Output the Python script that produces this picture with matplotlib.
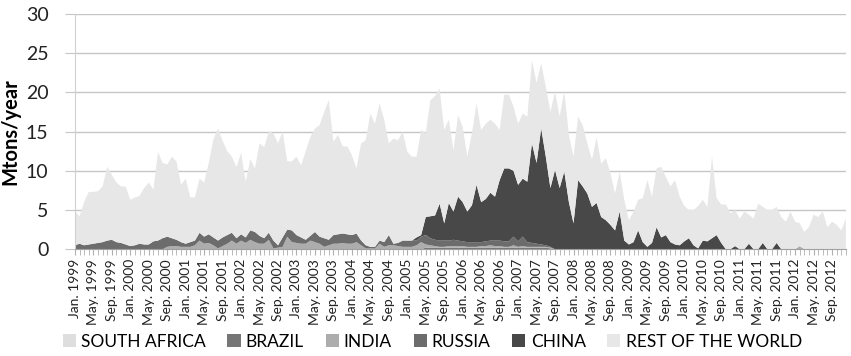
import numpy as np
import matplotlib.pyplot as plt

plt.rcParams['font.family'] = ['Lato', 'DejaVu Sans']

# monthly values, Jan. 1999 .. Dec. 2012 (Mtons/year), one line per year
years = list(range(1999, 2013))
tick_months = ['Jan.', 'May.', 'Sep.']

south_africa = [0.0] * 168  # not visible on the chart

brazil = [
    0, 0, 0, 0, 0, 0, 0, 0, 0, 0, 0, 0,
    0, 0, 0, 0, 0, 0, 0, 0, 0, 0, 0, 0,
    0, 0, 0, 0, 0, 0, 0, 0, 0, 0, 0, 0,
    0, 0, 0, 0, 0, 0, 0, 0, 0, 0, 0, 0,
    0, 0, 0, 0, 0, 0, 0, 0, 0, 0, 0, 0,
    0, 0, 0, 0, 0, 0, 0, 0, 0, 0, 0, 0,
    0, 0, 0, 0, 0.2, 0.2, 0.2, 0.2, 0.2, 0.2, 0.2, 0.2,
    0.2, 0.2, 0.2, 0.2, 0.2, 0.2, 0.2, 0.2, 0.2, 0.2, 0.2, 0.2,
    0.2, 0.2, 0.2, 0.2, 0.2, 0.2, 0.2, 0.1, 0, 0, 0, 0,
    0, 0, 0, 0, 0, 0, 0, 0, 0, 0, 0, 0,
    0, 0, 0, 0, 0, 0, 0, 0, 0, 0, 0, 0,
    0, 0, 0, 0, 0, 0, 0, 0, 0, 0, 0, 0,
    0, 0, 0, 0, 0, 0, 0, 0, 0, 0, 0, 0,
    0, 0, 0, 0, 0, 0, 0, 0, 0, 0, 0, 0,
]

india = [
    0, 0, 0, 0, 0, 0, 0, 0, 0, 0, 0, 0,
    0, 0, 0, 0, 0, 0, 0, 0, 0.3, 0.4, 0.4, 0.3,
    0.3, 0.3, 0.5, 1.1, 0.7, 0.8, 0.5, 0.1, 0.4, 0.7, 1.1, 0.7,
    1.1, 0.8, 1.2, 0.9, 0.7, 0.7, 1.2, 0.1, 0.2, 0.3, 1.6, 0.9,
    0.8, 0.7, 0.7, 1.1, 0.9, 0.7, 0.3, 0.5, 0.7, 0.7, 0.8, 0.7,
    0.7, 0.9, 0.5, 0.1, 0.1, 0.1, 0.7, 0.3, 0.5, 0.5, 0.4, 0.3,
    0.3, 0.3, 0.5, 0.9, 0.4, 0.3, 0.2, 0.1, 0.1, 0.2, 0.2, 0.2,
    0.2, 0.1, 0.1, 0.1, 0.2, 0.2, 0.3, 0.2, 0.2, 0.1, 0.1, 0.3,
    0.1, 0.2, 0.1, 0.1, 0.1, 0.1, 0.1, 0.1, 0, 0, 0, 0,
    0, 0, 0, 0, 0, 0, 0, 0, 0, 0, 0, 0,
    0, 0, 0, 0, 0, 0, 0, 0, 0, 0, 0, 0,
    0, 0, 0, 0, 0, 0, 0, 0, 0, 0, 0, 0,
    0, 0, 0, 0, 0, 0, 0, 0, 0, 0, 0, 0,
    0, 0.4, 0, 0, 0, 0, 0, 0, 0, 0, 0, 0,
]

russia = [
    0.5, 0.7, 0.5, 0.6, 0.7, 0.8, 0.9, 1.1, 1.2, 0.9, 0.8, 0.6,
    0.4, 0.5, 0.7, 0.6, 0.6, 1.0, 1.1, 1.4, 1.3, 1.0, 0.8, 0.6,
    0.4, 0.6, 0.6, 1.0, 0.9, 1.1, 1.0, 1.0, 1.1, 1.1, 1.0, 0.7,
    0.8, 0.7, 1.2, 1.3, 1.0, 0.7, 0.9, 1.0, 0.3, 1.2, 0.9, 1.5,
    1.0, 0.8, 0.5, 0.6, 1.3, 0.9, 1.1, 0.7, 1.1, 1.2, 1.2, 1.2,
    1.1, 1.1, 0.6, 0.4, 0.2, 0.2, 0.4, 0.6, 1.3, 0.2, 0.4, 0.8,
    0.8, 0.8, 0.6, 0.7, 1.2, 0.9, 0.8, 0.8, 0.8, 0.7, 0.8, 0.7,
    0.6, 0.6, 0.6, 0.6, 0.5, 0.6, 0.6, 0.7, 0.7, 0.7, 0.7, 1.1,
    0.7, 1.2, 0.6, 0.5, 0.4, 0.3, 0.2, 0.1, 0, 0, 0, 0,
    0, 0, 0, 0, 0, 0, 0, 0, 0, 0, 0, 0,
    0, 0, 0, 0, 0, 0, 0, 0, 0, 0, 0, 0,
    0, 0, 0, 0, 0, 0, 0, 0, 0, 0, 0, 0,
    0, 0, 0, 0, 0, 0, 0, 0, 0, 0, 0, 0,
    0, 0, 0, 0, 0, 0, 0, 0, 0, 0, 0, 0,
]

china = [
    0, 0, 0, 0, 0, 0, 0, 0, 0, 0, 0, 0,
    0, 0, 0, 0, 0, 0, 0, 0, 0, 0, 0, 0,
    0, 0, 0, 0, 0, 0, 0, 0, 0, 0, 0, 0,
    0, 0, 0, 0, 0, 0, 0, 0, 0, 0, 0, 0,
    0, 0, 0, 0, 0, 0, 0, 0, 0, 0, 0, 0,
    0, 0, 0, 0, 0, 0, 0, 0, 0, 0, 0, 0,
    0, 0, 0.4, 0.2, 2.3, 2.8, 3.1, 4.7, 2.2, 4.8, 3.6, 5.6,
    5.0, 3.9, 4.7, 7.3, 5.1, 5.4, 6.1, 5.6, 7.7, 9.3, 9.3, 8.4,
    7.2, 7.4, 7.7, 12.7, 10.3, 14.8, 11.3, 7.5, 10.1, 7.8, 9.9, 6.0,
    3.3, 8.8, 8.0, 7.1, 5.4, 5.9, 4.1, 3.7, 3.1, 2.4, 4.8, 1.1,
    0.6, 0.9, 2.4, 0.9, 0.3, 0.8, 2.8, 1.5, 1.8, 0.9, 0.6, 0.5,
    1.0, 1.4, 0.5, 0.1, 1.1, 1.0, 1.4, 1.8, 0.8, 0, 0, 0.4,
    0, 0, 0.7, 0, 0, 0.8, 0, 0, 0.8, 0, 0, 0,
    0, 0, 0, 0, 0, 0, 0, 0, 0, 0, 0, 0,
]

rest_of_world = [
    4.3, 3.5, 5.5, 6.7, 6.6, 6.6, 7.1, 9.4, 8.3, 7.6, 7.2, 7.4,
    5.9, 6.1, 6.1, 7.2, 7.9, 6.6, 11.3, 9.6, 9.2, 10.4, 10.0, 7.3,
    8.3, 5.7, 5.5, 6.9, 6.9, 9.1, 12.5, 14.3, 12.3, 10.7, 9.7, 9.1,
    10.4, 7.1, 9.1, 8.1, 11.8, 11.6, 12.9, 13.7, 13.0, 13.5, 8.7, 8.8,
    10.0, 9.2, 11.3, 12.6, 13.2, 14.2, 16.1, 17.8, 11.9, 12.7, 11.1, 11.2,
    10.2, 8.3, 12.4, 13.4, 17.0, 15.7, 17.5, 15.6, 11.7, 13.4, 13.1, 13.9,
    11.3, 10.7, 10.3, 13.4, 10.7, 14.8, 15.2, 14.7, 11.9, 10.6, 7.8, 10.4,
    9.6, 7.0, 9.2, 10.4, 9.2, 9.6, 9.3, 9.3, 6.4, 9.4, 9.4, 8.2,
    7.8, 8.3, 8.3, 10.6, 10.2, 8.3, 8.9, 9.7, 10.0, 9.1, 10.2, 8.6,
    8.5, 8.1, 7.8, 6.4, 6.0, 8.4, 6.8, 7.9, 6.6, 4.7, 5.1, 5.2,
    3.1, 3.9, 3.9, 5.6, 8.5, 5.9, 7.5, 9.0, 7.4, 7.1, 8.2, 6.2,
    4.5, 3.6, 4.5, 5.4, 5.2, 4.4, 10.4, 4.7, 4.9, 5.7, 4.6, 4.6,
    3.9, 4.8, 3.7, 3.9, 5.8, 4.6, 5.0, 5.0, 4.6, 4.1, 3.5, 4.8,
    3.5, 2.9, 2.2, 2.8, 4.4, 4.1, 4.8, 2.8, 3.5, 3.1, 2.4, 3.9,
]

series_names = ['SOUTH AFRICA', 'BRAZIL', 'INDIA', 'RUSSIA', 'CHINA', 'REST OF THE WORLD']
colors = ['#dedede', '#767676', '#adadad', '#6c6c6c', '#484848', '#e7e7e7']

x = np.arange(len(rest_of_world))
tick_labels = [f'{m} {y}' for y in years for m in tick_months]

fig = plt.figure(figsize=(8.51, 3.56), dpi=100)
ax = fig.add_axes([0.088, 0.3, 0.906, 0.661])

ax.stackplot(x, south_africa, brazil, india, russia, china, rest_of_world,
             colors=colors, labels=series_names, lw=0, zorder=2)

ax.set_xlim(0, len(x) - 1)
ax.set_ylim(0, 30)
ax.set_yticks(range(0, 31, 5))
ax.yaxis.grid(True, color='#c6c6c6', lw=1, zorder=0)
ax.set_axisbelow(True)

ax.set_xticks(x[::4])
ax.set_xticklabels(tick_labels, rotation=90, fontsize=10, color='#222222')
ax.set_xticks(x, minor=True)
ax.tick_params(axis='x', which='both', length=4, color='#b0b0b0', pad=3)
ax.tick_params(axis='y', length=7, color='#c6c6c6', labelsize=14, pad=12,
               labelcolor='#222222')

for side in ['top', 'right']:
    ax.spines[side].set_visible(False)
ax.spines['left'].set_color('#d0d0d0')
ax.spines['bottom'].set_color('#a0a0a0')

ax.set_ylabel('Mtons/year', fontsize=14.5, fontweight='bold', labelpad=4)

handles, labels = ax.get_legend_handles_labels()
fig.legend(handles, labels, loc='center', bbox_to_anchor=(0.508, 0.04),
           ncol=6, frameon=False, fontsize=12.5, handlelength=0.75,
           handleheight=0.75, handletextpad=0.3, columnspacing=1.25)

fig.savefig('out.png', dpi=100)
